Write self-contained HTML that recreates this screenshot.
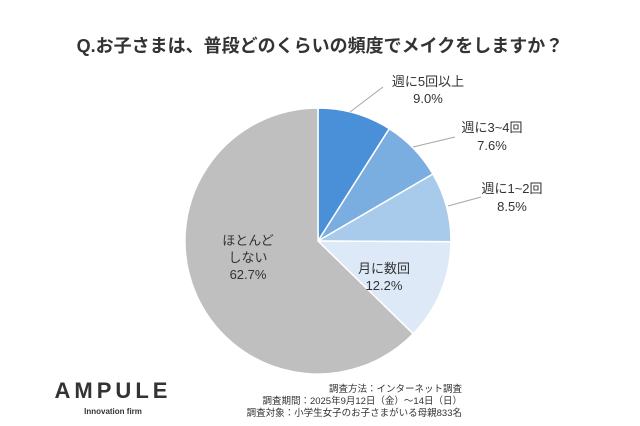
<!DOCTYPE html>
<html><head><meta charset="utf-8"><style>
body{margin:0;background:#fff}
svg{display:block}
text{font-family:"Liberation Sans","Noto Sans CJK JP",sans-serif;fill:#333}
</style></head><body>
<svg width="640" height="426" viewBox="0 0 640 426">
<text x="320" y="52" font-size="18" font-weight="bold" text-anchor="middle" fill="#404040">Q.お子さまは、普段どのくらいの頻度でメイクをしますか？</text>
<g stroke="#fff" stroke-width="1.5">
<path d="M318,241 L318,108 A133,133 0 0 1 389.3,128.7 Z" fill="#4a90d9"/>
<path d="M318,241 L389.3,128.7 A133,133 0 0 1 432.9,174 Z" fill="#7aaee0"/>
<path d="M318,241 L432.9,174 A133,133 0 0 1 451,241.8 Z" fill="#a9cbeb"/>
<path d="M318,241 L451,241.8 A133,133 0 0 1 413.2,333.8 Z" fill="#dde9f7"/>
<path d="M318,241 L413.2,333.8 A133,133 0 1 1 318,108 Z" fill="#bfbfbf"/>
</g>
<g stroke="#a6a6a6" stroke-width="1">
<line x1="350" y1="112" x2="383" y2="87"/>
<line x1="413" y1="147" x2="455" y2="137"/>
<line x1="448" y1="206" x2="481" y2="197"/>
</g>
<g font-size="13" text-anchor="middle">
<text x="428" y="86">週に5回以上</text><text x="428" y="103">9.0%</text>
<text x="492" y="132">週に3~4回</text><text x="492" y="150">7.6%</text>
<text x="512" y="193">週に1~2回</text><text x="512" y="211">8.5%</text>
<text x="384" y="273">月に数回</text><text x="384" y="290">12.2%</text>
<text x="248" y="245">ほとんど</text><text x="248" y="262">しない</text><text x="248" y="279">62.7%</text>
</g>
<text x="113" y="398" font-size="22" font-weight="bold" text-anchor="middle" fill="#111" letter-spacing="4">AMPULE</text>
<text x="113" y="414" font-size="8" font-weight="bold" text-anchor="middle" fill="#222">Innovation firm</text>
<g font-size="9.5" text-anchor="end" fill="#555">
<text x="462" y="392" fill="#555">調査方法：インターネット調査</text>
<text x="462" y="404" fill="#555">調査期間：2025年9月12日（金）～14日（日）</text>
<text x="462" y="416" fill="#555">調査対象：小学生女子のお子さまがいる母親833名</text>
</g>
</svg>
</body></html>
